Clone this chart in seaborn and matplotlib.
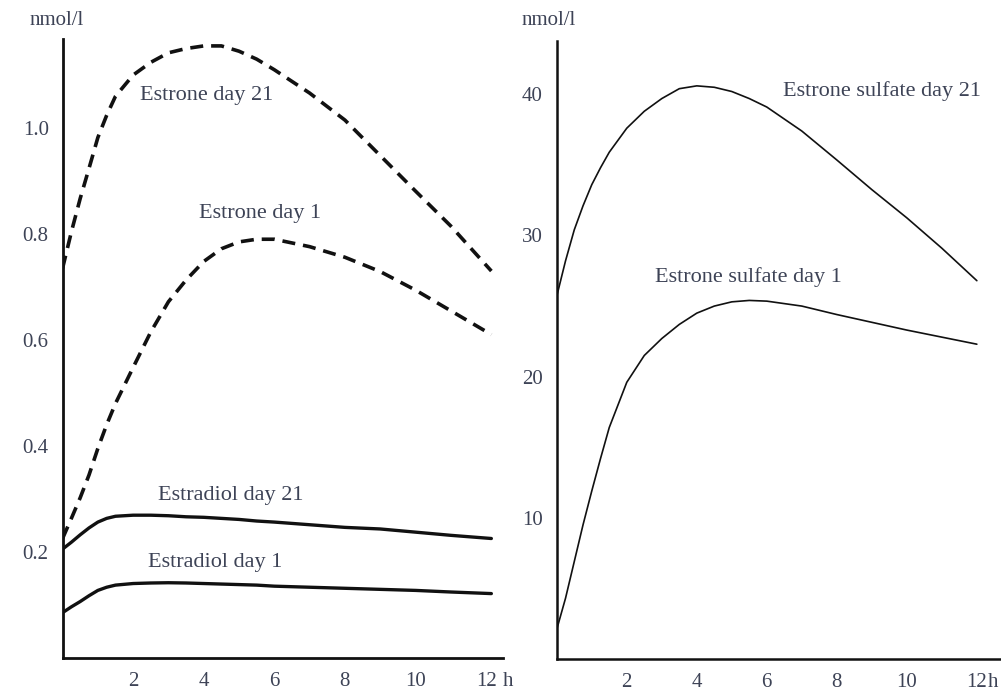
import matplotlib
matplotlib.use("Agg")
import matplotlib.pyplot as plt
import seaborn as sns

# --- hours after dosing ---
HOURS_LEFT = [0, 0.25, 0.5, 0.75, 1, 1.25, 1.5, 2, 2.5, 3, 3.5, 4, 4.5, 5, 5.5, 6, 7, 8, 9, 10, 11, 12.15]
HOURS_RIGHT = [0, 0.25, 0.5, 0.75, 1, 1.25, 1.5, 2, 2.5, 3, 3.5, 4, 4.5, 5, 5.5, 6, 7, 8, 9, 10, 11, 12]

# --- left panel, nmol/l ---
ESTRONE_D21 = [0.735, 0.804, 0.867, 0.924, 0.982, 1.024, 1.06, 1.10, 1.124, 1.142, 1.150, 1.155,
               1.155, 1.145, 1.130, 1.11, 1.066, 1.015, 0.948, 0.881, 0.815, 0.73]
ESTRONE_D1 = [0.225, 0.263, 0.302, 0.345, 0.395, 0.44, 0.48, 0.548, 0.615, 0.672, 0.713, 0.748,
              0.772, 0.785, 0.790, 0.79, 0.776, 0.756, 0.729, 0.694, 0.655, 0.61]
ESTRADIOL_D21 = [0.205, 0.218, 0.232, 0.245, 0.256, 0.263, 0.267, 0.269, 0.269, 0.268, 0.266, 0.265,
                 0.263, 0.261, 0.258, 0.256, 0.251, 0.246, 0.243, 0.237, 0.231, 0.225]
ESTRADIOL_D1 = [0.085, 0.096, 0.106, 0.117, 0.127, 0.133, 0.137, 0.140, 0.141, 0.1415, 0.141, 0.140,
                0.139, 0.138, 0.137, 0.135, 0.133, 0.131, 0.129, 0.127, 0.124, 0.121]

# --- right panel, nmol/l ---
SULFATE_D21 = [25.7, 28.2, 30.4, 32.1, 33.6, 34.8, 35.9, 37.6, 38.8, 39.7, 40.4, 40.6,
               40.5, 40.2, 39.7, 39.1, 37.4, 35.35, 33.25, 31.25, 29.1, 26.8]
SULFATE_D1 = [2.1, 4.3, 6.9, 9.5, 11.9, 14.2, 16.4, 19.6, 21.5, 22.7, 23.7, 24.5,
              25.0, 25.3, 25.4, 25.35, 25.0, 24.4, 23.85, 23.3, 22.8, 22.3]

X_TICKS = [2, 4, 6, 8, 10, 12]
LEFT_Y_TICKS = [0.2, 0.4, 0.6, 0.8, 1.0]
RIGHT_Y_TICKS = [10, 20, 30, 40]

TEXT_COLOR = "#3d4356"
LINE_COLOR = "#111111"


def style_axis(ax, spine_w):
    sns.despine(ax=ax)
    for side in ("left", "bottom"):
        ax.spines[side].set_linewidth(spine_w)
        ax.spines[side].set_color(LINE_COLOR)
    ax.tick_params(direction="out", length=5, width=1.2, pad=5, colors=LINE_COLOR,
                   labelcolor=TEXT_COLOR, labelsize=15)
    ax.set_xlabel("")
    ax.set_ylabel("")
    ax.set_facecolor("white")


def main():
    sns.set_theme(style="white")
    plt.rcParams["font.family"] = ["Liberation Serif", "DejaVu Serif"]

    fig = plt.figure(figsize=(10.01, 6.92), dpi=100)
    ax_l = fig.add_axes([0.0625, 0.0496, 0.440, 0.8940])
    ax_r = fig.add_axes([0.5562, 0.0477, 0.4438, 0.8935])

    # --- left panel: estrone (dashed) and estradiol (solid) ---
    dash = (0, (3.6, 2.2))
    sns.lineplot(x=HOURS_LEFT, y=ESTRONE_D21, ax=ax_l, color=LINE_COLOR, lw=2.6, linestyle=dash)
    sns.lineplot(x=HOURS_LEFT, y=ESTRONE_D1, ax=ax_l, color=LINE_COLOR, lw=2.6, linestyle=dash)
    sns.lineplot(x=HOURS_LEFT, y=ESTRADIOL_D21, ax=ax_l, color=LINE_COLOR, lw=2.4)
    sns.lineplot(x=HOURS_LEFT, y=ESTRADIOL_D1, ax=ax_l, color=LINE_COLOR, lw=2.4)
    ax_l.set_xlim(0, 12.48)
    ax_l.set_ylim(0, 1.168)
    ax_l.set_xticks(X_TICKS)
    ax_l.set_yticks(LEFT_Y_TICKS)
    ax_l.set_yticklabels([f"{v:.1f}" for v in LEFT_Y_TICKS])
    style_axis(ax_l, 2.0)

    ann = dict(color=TEXT_COLOR, fontsize=16, ha="center", va="center")
    ax_l.text(4.08, 1.062, "Estrone day 21", **ann)
    ax_l.text(5.59, 0.838, "Estrone day 1", **ann)
    ax_l.text(4.77, 0.307, "Estradiol day 21", **ann)
    ax_l.text(4.32, 0.180, "Estradiol day 1", **ann)

    # --- right panel: estrone sulfate ---
    sns.lineplot(x=HOURS_RIGHT, y=SULFATE_D21, ax=ax_r, color=LINE_COLOR, lw=1.2)
    sns.lineplot(x=HOURS_RIGHT, y=SULFATE_D1, ax=ax_r, color=LINE_COLOR, lw=1.2)
    ax_r.set_xlim(0, 12.69)
    ax_r.set_ylim(0, 43.8)
    ax_r.set_xticks(X_TICKS)
    ax_r.set_yticks(RIGHT_Y_TICKS)
    style_axis(ax_r, 1.8)
    ax_r.text(9.28, 40.24, "Estrone sulfate day 21", **ann)
    ax_r.text(5.47, 27.07, "Estrone sulfate day 1", **ann)

    # unit labels and the "h" after the last x tick
    for ax, x_unit, x_h in ((ax_l, 0.030, 12.62), (ax_r, 0.521, 12.45)):
        ax.text(x_h, -0.038, "h", transform=ax.get_xaxis_transform(), color=TEXT_COLOR,
                fontsize=15, ha="center", va="center", clip_on=False)
        fig.text(x_unit, 0.970, "nmol/l", color=TEXT_COLOR, fontsize=15, ha="left", va="center")

    fig.savefig("out.png", dpi=100, facecolor="white")
    plt.close(fig)


if __name__ == "__main__":
    main()
